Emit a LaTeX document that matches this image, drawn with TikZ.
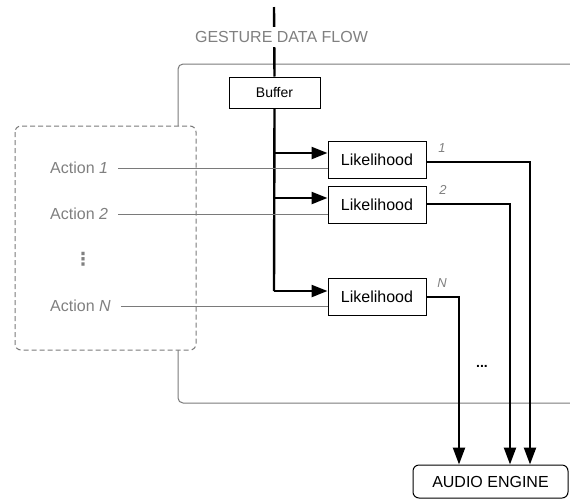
\documentclass[tikz,border=0pt]{standalone}
\usepackage{fontspec}
\setmainfont{Liberation Sans}
\newfontfamily\dejavu{DejaVu Sans}
\usetikzlibrary{arrows.meta,calc}
\definecolor{gtxt}{HTML}{808080}
\definecolor{gln}{HTML}{7A7A7A}
\tikzset{
  f16/.style={font=\fontsize{16}{19}\selectfont},
  f14/.style={font=\fontsize{14}{17}\selectfont},
  f13/.style={font=\fontsize{13}{16}\selectfont},
  lbox/.style={draw, line width=1pt, inner sep=0pt, minimum width=98pt, minimum height=37pt, f16},
  thick line/.style={line width=2.4pt},
  arr/.style={thick line, -{Triangle[length=17pt,width=12pt]}},
  sarr/.style={thick line, -{Triangle[length=16pt,width=12pt]}},
  gline/.style={draw=gln, line width=1pt},
  actlbl/.style={text=gtxt, f16, anchor=west, inner xsep=0pt},
  numlbl/.style={text=gtxt, f13, inner sep=0pt},
}
\begin{document}
\begin{tikzpicture}[x=1pt,y=-1pt]
\useasboundingbox (0,0) rectangle (570,499);
% big container (open at right)
\draw[gline, rounded corners=5pt] (575,64) -- (178,64) -- (178,403) -- (575,403);
% dashed action box
\draw[draw=gln, line width=1pt, dashed, dash pattern=on 5pt off 3pt, rounded corners=6pt, fill=white] (15,126) rectangle (196,350);

% nodes
\node[lbox, f14, minimum width=91pt, minimum height=31pt] (buf) at (274.5,92.5) {Buffer};
\node[lbox] (l1) at (377,159.5) {Likelihood};
\node[lbox] (l2) at (377,204.5) {Likelihood};
\node[lbox] (lN) at (377,297) {Likelihood};
\node[draw, line width=1pt, rounded corners=6pt, minimum width=155pt, minimum height=33pt, inner sep=0pt, f16] (ae) at (490.5,481.5) {AUDIO ENGINE};

\node[actlbl] (a1) at (50,168) {Action \textit{1}};
\node[actlbl] (a2) at (50,214) {Action \textit{2}};
\node[actlbl] (aN) at (50,306) {Action \textit{N}};
\node[text=gtxt, inner sep=0pt, font=\dejavu\fontsize{18}{20}\selectfont\bfseries] (dots) at (83,259) {⋮};

\node[numlbl] (n1) at (442,148) {\textit{1}};
\node[numlbl] (n2) at (443,190) {\textit{2}};
\node[numlbl] (nN) at (442,283) {\textit{N}};
\node[f14, inner sep=0pt] (more) at (482,366) {\bfseries ...};

% gesture data flow input
\coordinate (top) at (274,7);
\draw[thick line] (top) -- (buf.north);
\node[text=gtxt, fill=white, f16, inner xsep=0pt, inner ysep=4pt] (gdf) at (281.5,37) {GESTURE DATA FLOW};

% trunk and branches
\coordinate (b1) at (274,153);
\coordinate (b2) at (274,198);
\coordinate (bN) at (274,291);
\draw[thick line] (buf.south) -- (bN);
\draw[sarr] (b1) -- (b1 -| l1.west);
\draw[sarr] (b2) -- (b2 -| l2.west);
\draw[sarr] (bN) -- (bN -| lN.west);

% action lines
\draw[gline] ([xshift=10pt]a1.east) -- (a1.east -| l1.west);
\draw[gline] ([xshift=10pt]a2.east) -- (a2.east -| l2.west);
\draw[gline] ([xshift=10pt]aN.east) -- (aN.east -| lN.west);

% outputs
\draw[arr] ([yshift=-2.5pt]l1.east) -| ([xshift=39.5pt]ae.north);
\draw[arr] ([yshift=0.5pt]l2.east) -| ([xshift=19.5pt]ae.north);
\draw[arr] (lN.east) -| ([xshift=-31.5pt]ae.north);
\end{tikzpicture}
\end{document}
